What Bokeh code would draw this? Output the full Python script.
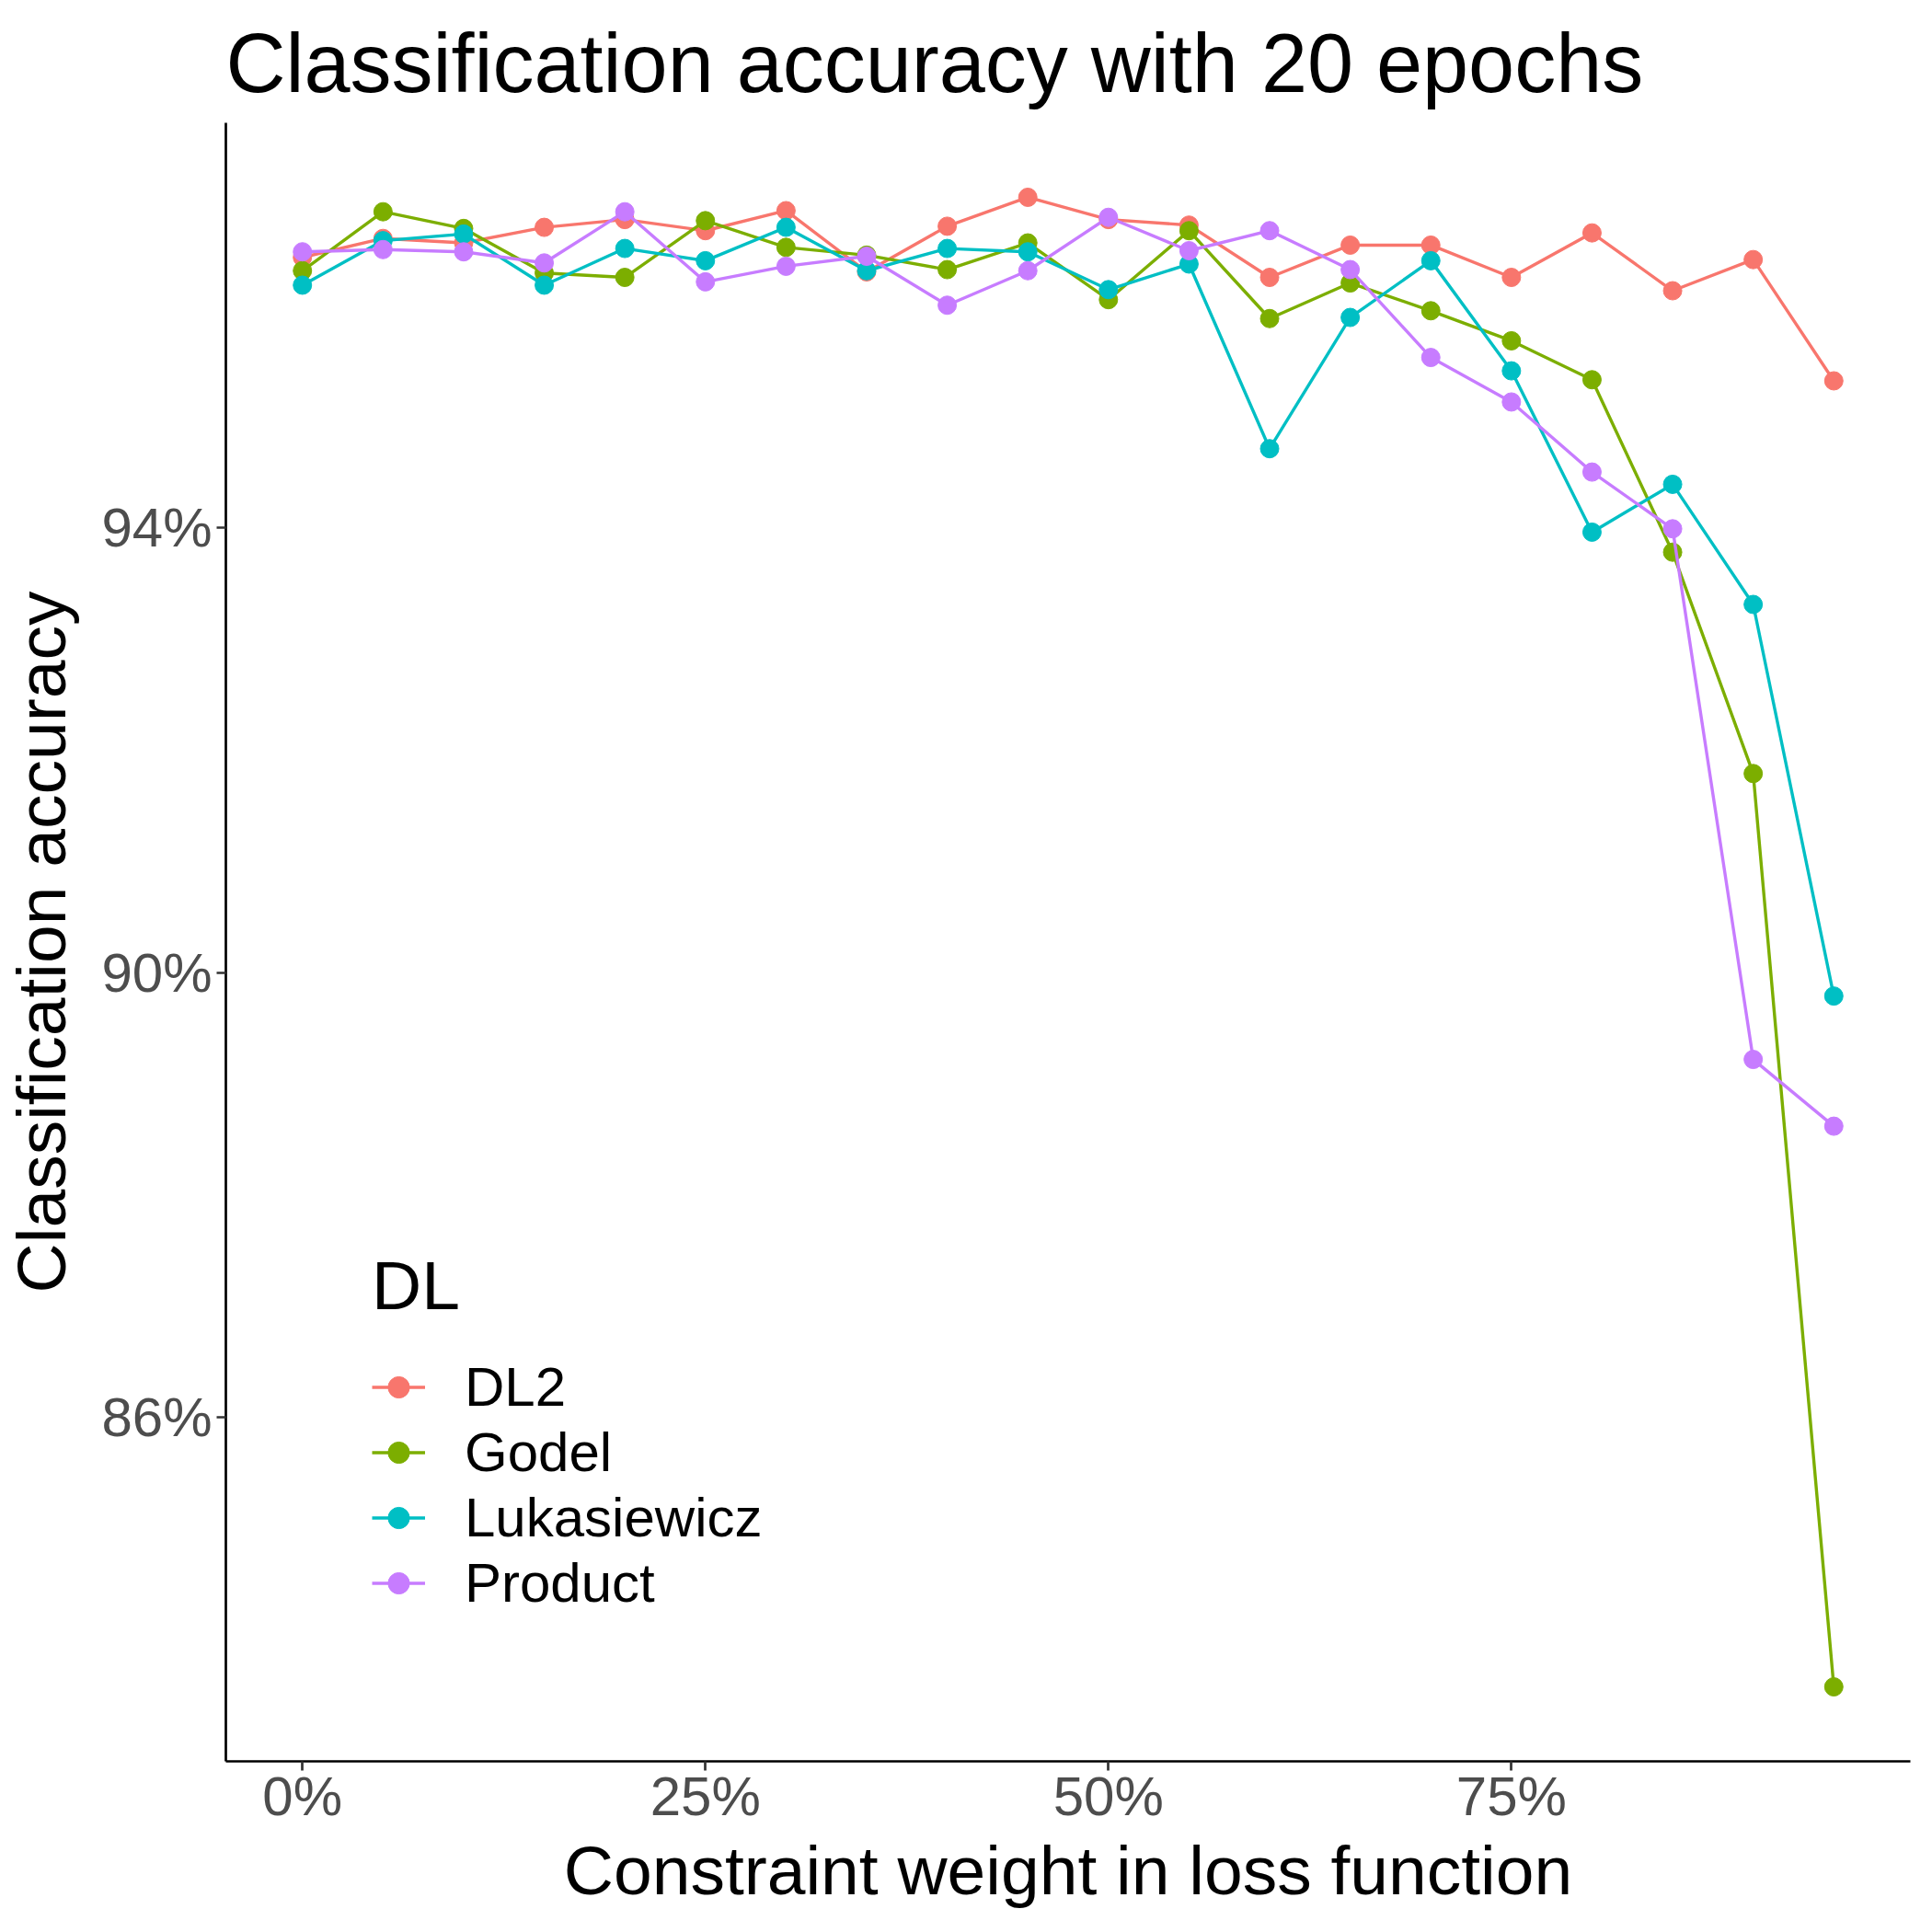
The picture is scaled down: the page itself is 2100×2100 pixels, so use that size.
from bokeh.plotting import figure
from bokeh.models import Range1d, FixedTicker, PrintfTickFormatter
from bokeh.embed import file_html
from bokeh.resources import INLINE

# Constraint weight (%)
weights = [0, 5, 10, 15, 20, 25, 30, 35, 40, 45, 50, 55, 60, 65, 70, 75, 80, 85, 90, 95]

# Classification accuracy (%) per DL
dl2 = [96.43, 96.60, 96.56, 96.70, 96.77, 96.67, 96.85, 96.30, 96.71, 96.97,
       96.77, 96.72, 96.25, 96.54, 96.54, 96.25, 96.65, 96.13, 96.41, 95.32]
godel = [96.31, 96.84, 96.69, 96.29, 96.25, 96.76, 96.52, 96.45, 96.32, 96.56,
         96.05, 96.67, 95.88, 96.20, 95.95, 95.68, 95.33, 93.78, 91.79, 83.58]
lukasiewicz = [96.18, 96.58, 96.64, 96.18, 96.51, 96.40, 96.70, 96.31, 96.51, 96.48,
               96.14, 96.37, 94.71, 95.89, 96.40, 95.41, 93.96, 94.39, 93.31, 89.79]
product = [96.48, 96.50, 96.48, 96.38, 96.84, 96.21, 96.35, 96.44, 96.00, 96.31,
           96.79, 96.49, 96.67, 96.32, 95.53, 95.13, 94.50, 93.99, 89.22, 88.62]

series_names = ["DL2", "Godel", "Lukasiewicz", "Product"]
series_values = [dl2, godel, lukasiewicz, product]
series_colors = ["#F8766D", "#7CAE00", "#00BFC4", "#C77CFF"]

x_ticks = [0, 25, 50, 75]
y_ticks = [86, 90, 94]

FONT = "Liberation Sans"

all_y = [v for s in series_values for v in s]
ymin, ymax = min(all_y), max(all_y)
ypad = 0.05 * (ymax - ymin)
xmin, xmax = min(weights), max(weights)
xpad = 0.05 * (xmax - xmin)

p = figure(width=2084, height=2084, output_backend="svg", toolbar_location=None,
           x_range=Range1d(xmin - xpad, xmax + xpad),
           y_range=Range1d(ymin - ypad, ymax + ypad),
           title="Classification accuracy with 20 epochs")

p.min_border_left = 237
p.min_border_right = 8
p.min_border_top = 133
p.min_border_bottom = 170
p.outline_line_color = None
p.background_fill_color = "white"
p.border_fill_color = "white"
p.xgrid.visible = False
p.ygrid.visible = False

p.title.text_font = FONT
p.title.text_font_size = "90px"
p.title.text_font_style = "normal"
p.title.text_color = "black"
p.title.align = "left"
p.title.standoff = 30

for ax in (p.xaxis[0], p.yaxis[0]):
    ax.axis_line_color = "black"
    ax.axis_line_width = 2.7
    ax.major_tick_line_color = "#333333"
    ax.major_tick_line_width = 2.7
    ax.major_tick_in = 0
    ax.major_tick_out = 10
    ax.minor_tick_line_color = None
    ax.major_label_text_font = FONT
    ax.major_label_text_font_size = "60px"
    ax.major_label_text_color = "#4D4D4D"
    ax.axis_label_text_font = FONT
    ax.axis_label_text_font_size = "75px"
    ax.axis_label_text_font_style = "normal"
    ax.axis_label_text_color = "black"
    ax.formatter = PrintfTickFormatter(format="%d%%")

p.xaxis.ticker = FixedTicker(ticks=x_ticks)
p.yaxis.ticker = FixedTicker(ticks=y_ticks)
p.xaxis.axis_label = "Constraint weight in loss function"
p.yaxis.axis_label = "Classification accuracy"
p.xaxis.major_label_standoff = -6
p.yaxis.major_label_standoff = 5
p.xaxis.axis_label_standoff = 2
p.yaxis.axis_label_standoff = 20

for name, vals, col in zip(series_names, series_values, series_colors):
    p.line(weights, vals, line_color=col, line_width=3.4, legend_label=name)
    p.scatter(weights, vals, size=20, fill_color=col, line_color=col, legend_label=name)

lg = p.legend[0]
lg.location = (159, 158)
lg.title = "DL"
lg.title_text_font = FONT
lg.title_text_font_size = "75px"
lg.title_text_font_style = "normal"
lg.title_text_color = "black"
lg.title_standoff = 32
lg.label_text_font = FONT
lg.label_text_font_size = "60px"
lg.label_text_color = "black"
lg.glyph_width = 58
lg.glyph_height = 71
lg.label_height = 71
lg.label_standoff = 43
lg.spacing = 0
lg.padding = 0
lg.margin = 0
lg.border_line_color = None
lg.background_fill_alpha = 0

open("out.html", "w").write(file_html(p, INLINE))
